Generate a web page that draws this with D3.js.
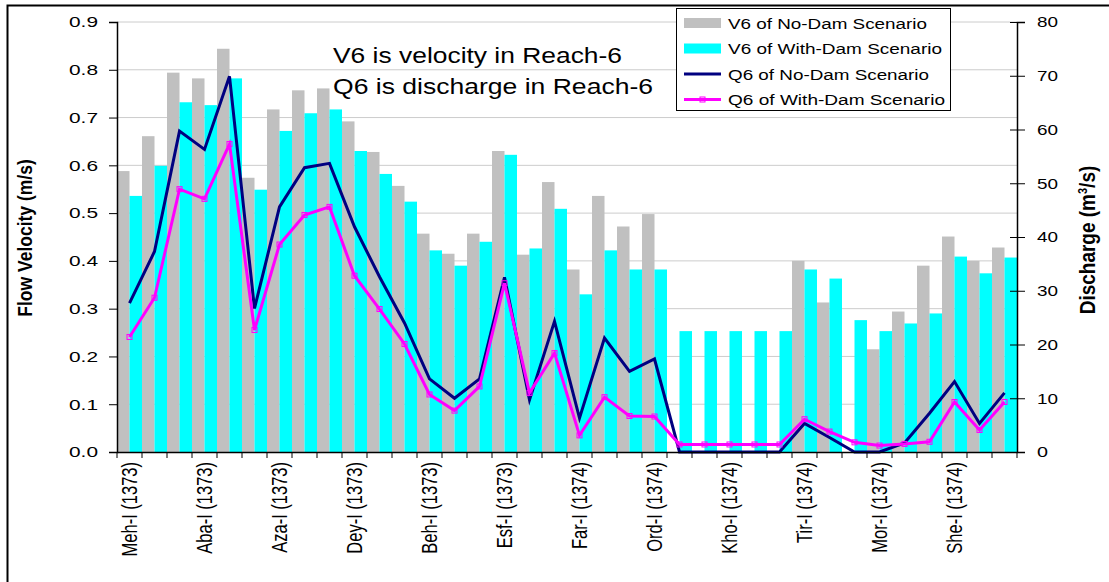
<!DOCTYPE html>
<html lang="en">
<head>
<meta charset="UTF-8">
<title>Reach-6 velocity and discharge</title>
<script src="https://d3js.org/d3.v7.min.js"></script>
<style>
    body { margin: 0; background: #fff; font-family: "Liberation Sans", Arial, sans-serif; }
    svg text { font-family: "Liberation Sans", Arial, sans-serif; }
</style>
</head>
<body>
<div id="chart"></div>
<script>
// 36 ten-day periods, Mehr 1373 .. Shahrivar 1374
const months = ["Meh", "Aba", "Aza", "Dey", "Beh", "Esf", "Far", "Ord", "Kho", "Tir", "Mor", "She"];
const years = ["1373", "1373", "1373", "1373", "1373", "1373", "1374", "1374", "1374", "1374", "1374", "1374"];
const decades = ["I", "II", "III"];
const categories = [];
months.forEach((m, i) => decades.forEach(d => categories.push(m + "-" + d + " (" + years[i] + ")")));

const v6NoDam = [0.588, 0.661, 0.794, 0.782, 0.844, 0.574, 0.717, 0.757, 0.761, 0.692, 0.628, 0.557,
                 0.457, 0.415, 0.457, 0.630, 0.413, 0.565, 0.382, 0.536, 0.472, 0.498, 0, 0,
                 0, 0, 0, 0.400, 0.313, 0, 0.215, 0.294, 0.390, 0.451, 0.400, 0.428];
const v6WithDam = [0.536, 0.599, 0.732, 0.726, 0.782, 0.549, 0.672, 0.709, 0.717, 0.630, 0.582, 0.524,
                   0.422, 0.390, 0.440, 0.622, 0.426, 0.509, 0.330, 0.422, 0.382, 0.382, 0.253, 0.253,
                   0.253, 0.253, 0.253, 0.382, 0.363, 0.276, 0.253, 0.269, 0.290, 0.409, 0.374, 0.407];
const q6NoDam = [27.7, 37.3, 59.7, 56.3, 69.9, 26.7, 45.6, 52.9, 53.7, 41.9, 32.6, 24.0,
                 13.6, 10.0, 13.6, 32.5, 9.7, 24.3, 6.3, 21.2, 15.0, 17.3, 0, 0,
                 0, 0, 0, 5.3, 2.7, 0, 0, 1.7, 7.2, 13.1, 5.3, 11.0];
const q6WithDam = [21.4, 28.7, 48.9, 47.1, 57.3, 22.7, 38.6, 44.1, 45.6, 32.8, 26.6, 20.1,
                   10.7, 7.7, 12.2, 31.4, 11.0, 18.4, 3.1, 10.2, 6.7, 6.6, 1.4, 1.4,
                   1.4, 1.4, 1.4, 6.1, 3.8, 1.8, 1.2, 1.5, 1.9, 9.3, 4.1, 9.3];
const velocityTicks = [0, 0.1, 0.2, 0.3, 0.4, 0.5, 0.6, 0.7, 0.8, 0.9];
const dischargeTicks = [0, 10, 20, 30, 40, 50, 60, 70, 80];

const W = 1109, H = 582;
const m = { left: 117, right: 1017, top: 22, bottom: 452 };
const stretch = 1.3;   // the original picture is wider than tall, text looks stretched

const svg = d3.select("#chart").append("svg")
    .attr("width", W).attr("height", H);

// outer frame
svg.append("rect")
    .attr("x", 7.5).attr("y", 5.5)
    .attr("width", W).attr("height", H)
    .attr("fill", "none").attr("stroke", "#000").attr("stroke-width", 2);

const x = d3.scaleBand().domain(categories).range([m.left, m.right]).padding(0);
const xSub = d3.scaleBand().domain(["no", "with"]).range([0, x.bandwidth()]);
const yV = d3.scaleLinear().domain([0, 0.9]).range([m.bottom, m.top]);
const yQ = d3.scaleLinear().domain([0, 80]).range([m.bottom, m.top]);

// gridlines
svg.append("g").selectAll("line")
    .data(velocityTicks.slice(1))
    .enter().append("line")
    .attr("x1", m.left).attr("x2", m.right)
    .attr("y1", d => yV(d)).attr("y2", d => yV(d))
    .attr("stroke", "#cccccc").attr("stroke-width", 1);

// bars
const barG = svg.append("g");
barG.selectAll("rect.no")
    .data(v6NoDam)
    .enter().append("rect")
    .attr("class", "no")
    .attr("x", (d, i) => x(categories[i]) + xSub("no"))
    .attr("width", xSub.bandwidth())
    .attr("y", d => yV(d))
    .attr("height", d => yV(0) - yV(d))
    .attr("fill", "#c0c0c0");
barG.selectAll("rect.with")
    .data(v6WithDam)
    .enter().append("rect")
    .attr("class", "with")
    .attr("x", (d, i) => x(categories[i]) + xSub("with"))
    .attr("width", xSub.bandwidth())
    .attr("y", d => yV(d))
    .attr("height", d => yV(0) - yV(d))
    .attr("fill", "#00ffff");

// lines
const cx = i => x(categories[i]) + x.bandwidth() / 2;
const line = d3.line().x((d, i) => cx(i)).y(d => yQ(d));

svg.append("path")
    .datum(q6NoDam)
    .attr("d", line)
    .attr("fill", "none").attr("stroke", "#000080")
    .attr("stroke-width", 3);

svg.append("path")
    .datum(q6WithDam)
    .attr("d", line)
    .attr("fill", "none").attr("stroke", "#ff00ff")
    .attr("stroke-width", 3);

svg.append("g").selectAll("rect")
    .data(q6WithDam)
    .enter().append("rect")
    .attr("x", (d, i) => cx(i) - 2.5)
    .attr("y", d => yQ(d) - 2.5)
    .attr("width", 5).attr("height", 5)
    .attr("fill", "none").attr("stroke", "#ff00ff").attr("stroke-width", 1);

// axes
const leftAxis = svg.append("g")
    .attr("transform", `translate(${m.left},0)`)
    .call(d3.axisLeft(yV).tickValues(velocityTicks).tickFormat(d3.format(".1f")).tickSize(8).tickPadding(11));
const rightAxis = svg.append("g")
    .attr("transform", `translate(${m.right},0)`)
    .call(d3.axisRight(yQ).tickValues(dischargeTicks).tickSize(8).tickPadding(12));
rightAxis.selectAll(".tick line").attr("x1", -7);

const bottomAxis = svg.append("g")
    .attr("transform", `translate(0,${m.bottom})`)
    .call(d3.axisBottom(x).tickSize(0).tickFormat(""));

// category boundary ticks
svg.append("g").selectAll("line")
    .data(categories.concat([null]))
    .enter().append("line")
    .attr("x1", (d, i) => m.left + i * x.step())
    .attr("x2", (d, i) => m.left + i * x.step())
    .attr("y1", m.bottom).attr("y2", m.bottom + 6)
    .attr("stroke", "#000");

[leftAxis, rightAxis, bottomAxis].forEach(g => {
    g.select(".domain").attr("stroke", "#000").attr("stroke-width", 1.5);
    g.selectAll(".tick line").attr("stroke", "#000");
    g.selectAll("text").attr("font-size", 15).attr("fill", "#000")
        .attr("lengthAdjust", "spacingAndGlyphs");
});
leftAxis.selectAll("text").attr("textLength", 29);
rightAxis.selectAll("text").attr("textLength", d => d === 0 ? 11 : 21);

// category labels, every third
svg.append("g").selectAll("text")
    .data(categories.filter((d, i) => i % 3 === 0))
    .enter().append("text")
    .attr("transform", d => `translate(${x(d) + x.bandwidth() / 2},${m.bottom + 10}) scale(${stretch},1) rotate(-90)`)
    .attr("dy", "0.35em")
    .attr("text-anchor", "end")
    .attr("font-size", 16.5)
    .text(d => d);

// axis titles
svg.append("text")
    .attr("transform", `translate(25,238) scale(1.2,1) rotate(-90)`)
    .attr("dy", "0.35em")
    .attr("text-anchor", "middle")
    .attr("font-size", 17.5).attr("font-weight", "bold")
    .text("Flow Velocity (m/s)");

const qTitle = svg.append("text")
    .attr("transform", `translate(1087,240) scale(1.2,1) rotate(-90)`)
    .attr("dy", "0.35em")
    .attr("text-anchor", "middle")
    .attr("font-size", 19).attr("font-weight", "bold");
qTitle.append("tspan").text("Discharge (m");
qTitle.append("tspan").attr("font-size", 11).attr("dy", -7).text("3");
qTitle.append("tspan").attr("dy", 7).text("/s)");

// annotation
const note = svg.append("g").attr("font-size", 22.5);
note.append("text").attr("x", 333).attr("y", 63)
    .attr("textLength", 289).attr("lengthAdjust", "spacingAndGlyphs")
    .text("V6 is velocity in Reach-6");
note.append("text").attr("x", 333).attr("y", 94)
    .attr("textLength", 320).attr("lengthAdjust", "spacingAndGlyphs")
    .text("Q6 is discharge in Reach-6");

// legend
const legendItems = [
    { label: "V6 of No-Dam Scenario", type: "bar", color: "#c0c0c0", len: 199 },
    { label: "V6 of With-Dam Scenario", type: "bar", color: "#00ffff", len: 214 },
    { label: "Q6 of No-Dam Scenario", type: "line", color: "#000080", len: 201 },
    { label: "Q6 of With-Dam Scenario", type: "marker", color: "#ff00ff", len: 217 }
];
const legend = svg.append("g");
legend.append("rect")
    .attr("x", 676.5).attr("y", 8.5).attr("width", 274).attr("height", 102)
    .attr("fill", "#fff").attr("stroke", "#000").attr("stroke-width", 1);
const items = legend.selectAll("g.item")
    .data(legendItems)
    .enter().append("g")
    .attr("transform", (d, i) => `translate(684,${23 + i * 25.5})`);
items.filter(d => d.type === "bar").append("rect")
    .attr("x", 0).attr("y", -5).attr("width", 37).attr("height", 10)
    .attr("fill", d => d.color);
items.filter(d => d.type !== "bar").append("line")
    .attr("x1", 0).attr("x2", 37).attr("y1", 0).attr("y2", 0)
    .attr("stroke", d => d.color).attr("stroke-width", 3);
items.filter(d => d.type === "marker").append("rect")
    .attr("x", 16).attr("y", -2.5).attr("width", 5).attr("height", 5)
    .attr("fill", "none").attr("stroke", d => d.color);
items.append("text")
    .attr("x", 44).attr("y", 5.5)
    .attr("font-size", 15.5)
    .attr("textLength", d => d.len).attr("lengthAdjust", "spacingAndGlyphs")
    .text(d => d.label);
</script>
</body>
</html>
